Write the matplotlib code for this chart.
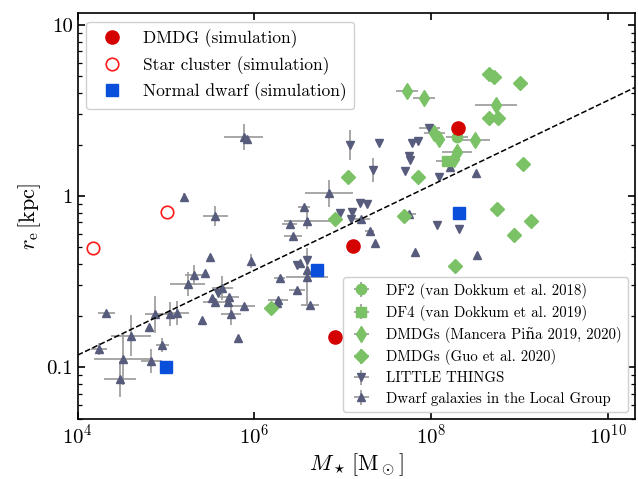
import numpy as np
import matplotlib
matplotlib.use("Agg")
import matplotlib.pyplot as plt
from matplotlib.ticker import FixedLocator, NullLocator, LogLocator, FuncFormatter

plt.rcParams['font.family'] = ['cmr10', 'DejaVu Serif']
plt.rcParams['mathtext.fontset'] = 'cm'
plt.rcParams['axes.formatter.use_mathtext'] = True
plt.rcParams['axes.unicode_minus'] = False

# --- data (log10 M_star [Msun], log10 r_e [kpc], errors in dex) ---
# simulations
dmdg_logm = [8.305, 7.113, 6.911]
dmdg_logr = [0.398, -0.292, -0.825]
cluster_logm = [4.177, 5.010]
cluster_logr = [-0.302, -0.094]
normal_logm = [4.999, 6.705, 8.313]
normal_logr = [-1.002, -0.433, -0.098]

# DF2 / DF4
df2_logm, df2_logr, df2_dx = [8.295], [0.345], [0.125]
df4_logm, df4_logr, df4_dx = [8.177], [0.205], [0.12]

# Mancera Pina 2019, 2020
mp_logm = [7.727, 7.923, 8.737, 8.502, 8.294, 8.036, 8.095, 8.266]
mp_logr = [0.614, 0.575, 0.533, 0.325, 0.259, 0.370, 0.333, 0.219]
mp_dx = [0.125, 0.125, 0.24, 0.17, 0.17, 0.12, 0.0, 0.0]

# Guo et al. 2020
guo_logm = [8.661, 8.717, 9.013, 8.654, 8.756, 9.037, 7.692, 8.745,
            9.131, 8.944, 8.271, 7.060, 7.857, 6.909, 6.191]
guo_logr = [0.713, 0.694, 0.663, 0.454, 0.458, 0.187, -0.115, -0.078,
            -0.144, -0.230, -0.411, 0.109, 0.113, -0.135, -0.655]

# LITTLE THINGS
lt_logm = [7.083, 7.412, 7.783, 7.848, 7.753, 7.761, 7.344, 7.704, 7.982, 8.090,
           7.193, 7.280, 6.969, 7.110, 7.091, 6.599, 6.486, 5.589, 8.067, 8.313]
lt_logr = [0.298, 0.312, 0.308, 0.323, 0.234, 0.211, 0.152, 0.146, 0.396, 0.113,
           -0.039, -0.049, -0.101, -0.092, -0.135, -0.374, -0.404, -0.569, -0.171, -0.195]
lt_dx = [0, 0, 0, 0, 0, 0, 0, 0, 0.12, 0,
         0, 0, 0, 0, 0, 0, 0, 0, 0, 0]
lt_dy = [0.09, 0, 0, 0, 0, 0, 0.07, 0, 0, 0,
         0, 0, 0, 0, 0, 0, 0, 0, 0, 0]

# Dwarf galaxies in the Local Group
lg_logm = [5.880, 5.918, 5.199, 6.845, 5.558, 6.561, 6.402, 6.599, 6.440, 5.502,
           5.967, 5.320, 5.445, 5.244, 6.288, 6.478, 5.635, 5.521, 5.558, 5.698,
           5.717, 5.880, 5.737, 5.408, 5.820, 4.325, 4.877, 5.040, 5.124, 4.809,
           4.602, 4.242, 4.960, 4.518, 4.835, 4.480, 7.306, 7.363, 7.204, 6.515,
           6.599, 6.599, 6.270, 6.251, 6.629, 7.821, 8.518, 8.215, 8.513, 7.753]
lg_logr = [0.347, 0.332, -0.004, 0.016, -0.117, -0.066, -0.166, -0.144, -0.232, -0.359,
           -0.380, -0.462, -0.448, -0.516, -0.478, -0.550, -0.536, -0.595, -0.622, -0.618,
           -0.589, -0.642, -0.692, -0.725, -0.832, -0.682, -0.692, -0.692, -0.686, -0.764,
           -0.818, -0.895, -0.871, -0.955, -0.963, -1.070, -0.203, -0.273, -0.136, -0.390,
           -0.433, -0.472, -0.608, -0.624, -0.637, -0.326, -0.345, 0.171, 0.136, -0.105]
lg_dx = [0.22, 0.0, 0.0, 0.27, 0.14, 0.07, 0.085, 0.26, 0.10, 0.0,
         0.0, 0.10, 0.0, 0.20, 0.06, 0.09, 0.12, 0.0, 0.14, 0.0,
         0.11, 0.13, 0.11, 0.0, 0.0, 0.095, 0.11, 0.12, 0.14, 0.0,
         0.23, 0.09, 0.07, 0.33, 0.12, 0.18, 0.05, 0.0, 0.10, 0.0,
         0.0, 0.24, 0.11, 0.0, 0.10, 0.0, 0.0, 0.0, 0.0, 0.08]
lg_dy = [0.076, 0.0, 0.024, 0.08, 0.06, 0.0, 0.0, 0.05, 0.0, 0.0,
         0.04, 0.06, 0.0, 0.07, 0.0, 0.0, 0.07, 0.0, 0.0, 0.0,
         0.0, 0.0, 0.06, 0.0, 0.0, 0.0, 0.11, 0.07, 0.07, 0.0,
         0.12, 0.035, 0.04, 0.15, 0.07, 0.105, 0.0, 0.0, 0.0, 0.0,
         0.0, 0.17, 0.0, 0.0, 0.0, 0.0, 0.0, 0.0, 0.0, 0.0]

# size-mass relation (dashed)
fit_slope, fit_norm = 0.248, -1.922

# --- styles ---
c_obs = '#575c7d'
c_green = '#7bc267'
c_err = '#a0a0a0'


def lin(logv):
    return 10 ** np.asarray(logv, dtype=float)


def errs(logv, d):
    logv = np.asarray(logv, dtype=float)
    d = np.asarray(d, dtype=float)
    return [10 ** logv - 10 ** (logv - d), 10 ** (logv + d) - 10 ** logv]


fig = plt.figure(figsize=(6.38, 4.79), dpi=100)
ax = fig.add_axes([0.1218, 0.1253, 0.8735, 0.8476])
ax.set_xscale('log')
ax.set_yscale('log')

eb_kw = dict(ls='none', ecolor=c_err, elinewidth=1.3, capsize=0)

h_lg = ax.errorbar(lin(lg_logm), lin(lg_logr), xerr=errs(lg_logm, lg_dx), yerr=errs(lg_logr, lg_dy),
                   fmt='^', color=c_obs, ms=5.5, label='Dwarf galaxies in the Local Group', **eb_kw)
h_lt = ax.errorbar(lin(lt_logm), lin(lt_logr), xerr=errs(lt_logm, lt_dx), yerr=errs(lt_logr, lt_dy),
                   fmt='v', color=c_obs, ms=5.5, label='LITTLE THINGS', **eb_kw)

mm = np.linspace(4, 10.4, 50)
ax.plot(10 ** mm, 10 ** (fit_norm + fit_slope * mm), 'k--', lw=1.1, zorder=3)

h_guo = ax.errorbar(lin(guo_logm), lin(guo_logr), xerr=errs(guo_logm, np.zeros(len(guo_logm))),
                    yerr=errs(guo_logr, np.zeros(len(guo_logr))),
                    fmt='D', color=c_green, ms=7, label='DMDGs (Guo et al. 2020)', **eb_kw)
h_mp = ax.errorbar(lin(mp_logm), lin(mp_logr), xerr=errs(mp_logm, mp_dx),
                   yerr=errs(mp_logr, np.zeros(len(mp_logr))),
                   fmt='d', color=c_green, ms=8, label=u'DMDGs (Mancera Piña 2019, 2020)', **eb_kw)
h_df4 = ax.errorbar(lin(df4_logm), lin(df4_logr), xerr=errs(df4_logm, df4_dx), yerr=errs(df4_logr, [0]),
                    fmt='s', color=c_green, ms=7.5, label='DF4 (van Dokkum et al. 2019)', **eb_kw)
h_df2 = ax.errorbar(lin(df2_logm), lin(df2_logr), xerr=errs(df2_logm, df2_dx), yerr=errs(df2_logr, [0]),
                    fmt='o', color=c_green, ms=7.5, label='DF2 (van Dokkum et al. 2018)', **eb_kw)

h_dmdg, = ax.plot(lin(dmdg_logm), lin(dmdg_logr), 'o', color='#d50000', ms=9.5, ls='none',
                  zorder=5, label='DMDG (simulation)')
h_cl, = ax.plot(lin(cluster_logm), lin(cluster_logr), 'o', mfc='none', mec='#ff1a1a', mew=1.2,
                ms=9, ls='none', zorder=5, label='Star cluster (simulation)')
h_nd, = ax.plot(lin(normal_logm), lin(normal_logr), 's', color='#0a4fdc', ms=8.5, ls='none',
                zorder=5, label='Normal dwarf (simulation)')

ax.set_xlim(1e4, 2.04e10)
ax.set_ylim(0.0497, 11.75)

ax.xaxis.set_major_locator(FixedLocator([1e4, 1e6, 1e8, 1e10]))
ax.xaxis.set_minor_locator(NullLocator())
ax.yaxis.set_major_locator(FixedLocator([0.1, 1, 10]))
ax.yaxis.set_minor_locator(LogLocator(base=10, subs=np.arange(2, 10), numticks=20))
ax.yaxis.set_major_formatter(FuncFormatter(lambda v, p: {0.1: '0.1', 1: '1', 10: '10'}.get(round(v, 3), '')))
ax.tick_params(which='both', direction='in', top=True, right=True, labelsize=15)
ax.tick_params(which='major', length=5, width=1.2)
ax.tick_params(which='minor', length=3, width=0.9)
for s in ax.spines.values():
    s.set_linewidth(1.2)

ax.set_xlabel(r'$M_\star\,[\mathrm{M}_\odot]$', fontsize=16, labelpad=2)
ax.set_ylabel(r'$r_\mathrm{e}\,[\mathrm{kpc}]$', fontsize=16, labelpad=2)

leg1 = ax.legend(handles=[h_dmdg, h_cl, h_nd], loc='upper left', fontsize=12.5,
                 framealpha=1, edgecolor='#d0d0d0', borderpad=0.45, labelspacing=0.45)
ax.add_artist(leg1)
ax.legend(handles=[h_df2, h_df4, h_mp, h_guo, h_lt, h_lg], loc='lower right', fontsize=10.7,
          framealpha=1, edgecolor='#d0d0d0', handlelength=1.7, labelspacing=0.42, borderpad=0.4)

fig.savefig('out.png', dpi=100)
